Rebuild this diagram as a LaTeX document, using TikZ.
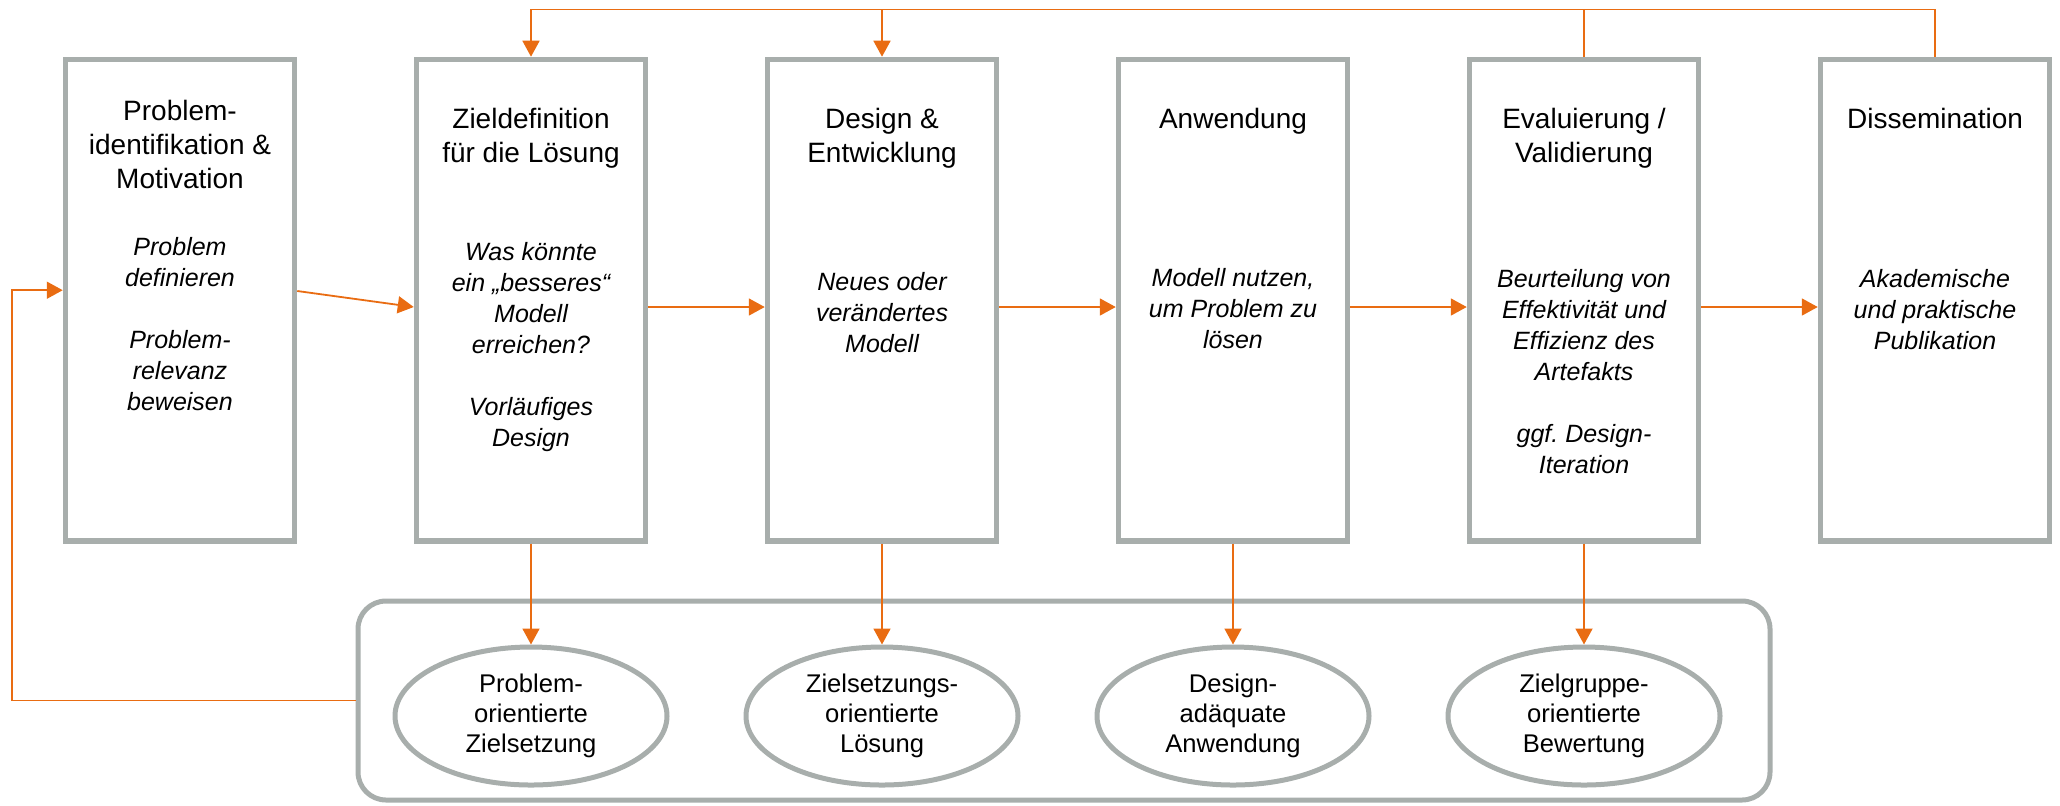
\documentclass[tikz,border=0pt]{standalone}
\usepackage{fontspec}
\setmainfont{Liberation Sans}
\usetikzlibrary{arrows.meta,shapes.geometric,positioning}

\definecolor{boxgray}{RGB}{168,174,172}
\definecolor{floworange}{RGB}{233,108,18}

\tikzset{
  phasebox/.style={draw=boxgray,line width=2.75pt,minimum width=114.5pt,minimum height=240.75pt,inner sep=0pt},
  goalell/.style={ellipse,draw=boxgray,line width=2.5pt,minimum width=136pt,minimum height=69pt,inner sep=0pt,align=center,font=\fontsize{12.8}{15}\selectfont},
  headtext/.style={anchor=north,align=center,inner sep=0pt,font=\fontsize{14}{17}\selectfont},
  bodytext/.style={anchor=north,align=center,inner sep=0pt,font=\fontsize{12.5}{15.5}\selectfont\itshape},
  flow/.style={draw=floworange,line width=0.9pt,-{Triangle[length=8pt,width=8.5pt]}},
  link/.style={draw=floworange,line width=0.9pt}
}

\begin{document}
\begin{tikzpicture}[x=1pt,y=-1pt]

\useasboundingbox (0,0) rectangle (1030,402.5);

\node [phasebox](phase1) at (90,150.1) {};
\node [phasebox,right=58.25pt of phase1](phase2) {};
\node [phasebox,right=58.25pt of phase2](phase3) {};
\node [phasebox,right=58.25pt of phase3](phase4) {};
\node [phasebox,right=58.25pt of phase4](phase5) {};
\node [phasebox,right=58.25pt of phase5](phase6) {};

\node [headtext](head1) at ([yshift=-21.4pt]phase1.north) {Problem-\\identifikation \&\\Motivation};
\node [headtext](head2) at ([yshift=-25.4pt]phase2.north) {Zieldefinition\\für die Lösung};
\node [headtext](head3) at ([yshift=-25.4pt]phase3.north) {Design \&\\Entwicklung};
\node [headtext](head4) at ([yshift=-25.4pt]phase4.north) {Anwendung};
\node [headtext](head5) at ([yshift=-25.4pt]phase5.north) {Evaluierung /\\Validierung};
\node [headtext](head6) at ([yshift=-25.4pt]phase6.north) {Dissemination};

\node [bodytext](body1) at ([yshift=-90pt]phase1.north) {Problem\\definieren\\[15.5pt]Problem-\\relevanz\\beweisen};
\node [bodytext](body2) at ([yshift=-92.5pt]phase2.north) {Was könnte\\ein „besseres“\\Modell\\erreichen?\\[15.5pt]Vorläufiges\\Design};
\node [bodytext](body3) at ([yshift=-107.5pt]phase3.north) {Neues oder\\verändertes\\Modell};
\node [bodytext](body4) at ([yshift=-105.5pt]phase4.north) {Modell nutzen,\\um Problem zu\\lösen};
\node [bodytext](body5) at ([yshift=-106pt]phase5.north) {Beurteilung von\\Effektivität und\\Effizienz des\\Artefakts\\[15.5pt]ggf.\ Design-\\Iteration};
\node [bodytext](body6) at ([yshift=-106pt]phase6.north) {Akademische\\und praktische\\Publikation};

\node [draw=boxgray,line width=2.5pt,rounded corners=14pt,minimum width=706pt,minimum height=99.5pt](frame) at (532,350.25) {};

\node [goalell](goal1) at ([yshift=-207.9pt]phase2.center) {Problem-\\orientierte\\Zielsetzung};
\node [goalell](goal2) at ([yshift=-207.9pt]phase3.center) {Zielsetzungs-\\orientierte\\Lösung};
\node [goalell](goal3) at ([yshift=-207.9pt]phase4.center) {Design-\\adäquate\\Anwendung};
\node [goalell](goal4) at ([yshift=-207.9pt]phase5.center) {Zielgruppe-\\orientierte\\Bewertung};

% forward flow
\draw [flow] ([yshift=4.6pt]phase1.east)--([yshift=-3.4pt]phase2.west);
\foreach \a/\b in {2/3,3/4,4/5,5/6}
  \draw [flow] ([yshift=-3.4pt]phase\a.east)--([yshift=-3.4pt]phase\b.west);

% down to the goals
\foreach \i/\j in {2/1,3/2,4/3,5/4}
  \draw [flow] (phase\i.south)--(goal\j.north);

% iteration back
\coordinate (toprail) at ([yshift=23.6pt]phase6.north);
\draw [flow] (phase6.north)--(toprail)-|(phase2.north);
\draw [flow] (toprail-|phase3.north)--(phase3.north);
\draw [link] (phase5.north)--(phase5.north|-toprail);

\coordinate (leftrail) at (6,0);
\draw [flow] (frame.west)--(frame.west-|leftrail)|-([yshift=5pt]phase1.west);

\end{tikzpicture}
\end{document}
